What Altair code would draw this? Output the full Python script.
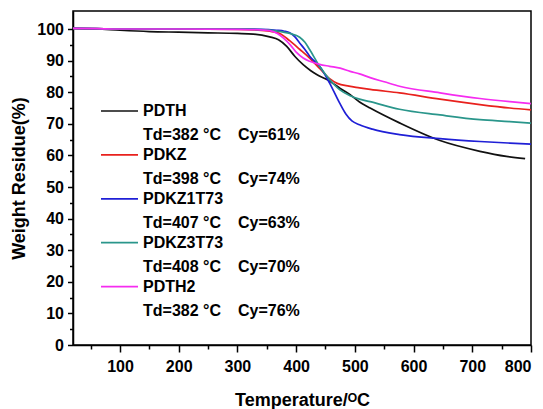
import altair as alt
import pandas as pd

# ---------------- data ----------------
names = ["PDTH", "PDKZ", "PDKZ1T73", "PDKZ3T73", "PDTH2"]
colors = ["#111111", "#e8211d", "#1f1fd6", "#2a968b", "#f52cf0"]
td_labels = ["Td=382 °C", "Td=398 °C", "Td=407 °C", "Td=408 °C", "Td=382 °C"]
cy_labels = ["Cy=61%", "Cy=74%", "Cy=63%", "Cy=70%", "Cy=76%"]

pdth_t = [20, 60, 100, 150, 200, 250, 300, 327, 355, 370, 384, 398, 412, 425, 435, 457, 475,
          492, 508, 526, 576, 645, 713, 758, 790]
pdth_w = [100.2, 100.0, 99.6, 99.2, 99.0, 98.8, 98.6, 98.4, 97.5, 96.6, 94.5, 91.3, 88.7, 86.8,
          85.6, 83.5, 81.2, 79.2, 76.9, 75.0, 70.3, 64.7, 61.3, 59.7, 59.0]

pdkz_t = [20, 60, 100, 200, 300, 330, 355, 372, 389, 406, 423, 440, 457, 470, 490, 508, 526,
          576, 645, 713, 764, 800]
pdkz_w = [100.2, 100.1, 100.0, 100.0, 99.9, 99.7, 99.3, 98.6, 96.3, 93.6, 90.8, 87.5, 84.3,
          82.8, 81.9, 81.4, 80.9, 79.8, 77.8, 76.1, 75.0, 74.4]

pdkz1_t = [20, 60, 100, 200, 300, 340, 366, 380, 389, 398, 406, 415, 423, 440, 457, 474, 485,
           495, 508, 530, 576, 645, 713, 764, 800]
pdkz1_w = [100.2, 100.1, 100.0, 100.0, 100.0, 99.9, 99.6, 99.3, 98.8, 97.5, 95.6, 93.5, 91.4,
           88.2, 82.9, 76.6, 73.0, 70.9, 69.7, 68.3, 66.6, 65.3, 64.4, 63.9, 63.6]

pdkz3_t = [20, 60, 100, 200, 300, 340, 366, 389, 406, 415, 423, 440, 457, 474, 492, 508, 526,
           576, 645, 713, 764, 800]
pdkz3_w = [100.2, 100.1, 100.0, 100.0, 100.0, 99.8, 99.4, 98.6, 97.4, 95.8, 93.5, 88.2, 84.0,
           80.8, 78.9, 77.8, 77.0, 74.6, 72.8, 71.3, 70.7, 70.2]

pdth2_t = [20, 60, 100, 200, 300, 330, 355, 368, 378, 390, 401, 412, 423, 440, 457, 475, 492,
           508, 526, 550, 576, 645, 713, 764, 800]
pdth2_w = [100.2, 100.1, 100.0, 100.0, 99.9, 99.8, 99.5, 98.6, 97.2, 95.0, 92.5, 90.8, 89.8,
           88.8, 88.2, 87.6, 86.6, 85.8, 84.6, 83.3, 81.9, 79.8, 78.0, 77.0, 76.4]

x_major = [100, 200, 300, 400, 500, 600, 700, 800]
x_minor = [50, 150, 250, 350, 450, 550, 650, 750]
y_major = [0, 10, 20, 30, 40, 50, 60, 70, 80, 90, 100]
y_minor = [5, 15, 25, 35, 45, 55, 65, 75, 85, 95]

# ---------------- tables ----------------
series_t = [pdth_t, pdkz_t, pdkz1_t, pdkz3_t, pdth2_t]
series_w = [pdth_w, pdkz_w, pdkz1_w, pdkz3_w, pdth2_w]
rows = []
for name, ts, ws in zip(names, series_t, series_w):
    for t, w in zip(ts, ws):
        rows.append({"series": name, "T": t, "W": w})
df = pd.DataFrame(rows)

legend_df = pd.DataFrame({
    "series": names,
    "td": td_labels,
    "cy": cy_labels,
    "i": list(range(len(names))),
})

FONT = "Liberation Sans"
xscale = alt.Scale(domain=[20, 800], nice=False, zero=False)
yscale = alt.Scale(domain=[0, 105.7], nice=False, zero=False)
cscale = alt.Scale(domain=names, range=colors)

lines = alt.Chart(df).mark_line(strokeWidth=1.7, interpolate="monotone").encode(
    x=alt.X("T:Q", scale=xscale,
            axis=alt.Axis(values=x_major, title="Temperature/ᴼC", orient="bottom",
                          tickSize=7, labelPadding=6, titlePadding=17,
                          labelFontSize=16, titleFontSize=18)),
    y=alt.Y("W:Q", scale=yscale,
            axis=alt.Axis(values=y_major, title="Weight Residue(%)", orient="left",
                          tickSize=5.5, labelPadding=4, titlePadding=8,
                          labelFontSize=16, titleFontSize=18)),
    color=alt.Color("series:N", scale=cscale, legend=None),
)

minor = alt.Chart(df).mark_line(opacity=0).encode(
    x=alt.X("T:Q", scale=xscale,
            axis=alt.Axis(values=x_minor, labels=False, title=None, domain=False,
                          orient="bottom", tickSize=4)),
    y=alt.Y("W:Q", scale=yscale,
            axis=alt.Axis(values=y_minor, labels=False, title=None, domain=False,
                          orient="left", tickSize=3.5)),
)

leg_base = alt.Chart(legend_df).transform_calculate(
    ny="100 + 43.9 * datum.i",
    ty="124 + 43.9 * datum.i",
)

leg_sym = leg_base.mark_rule(strokeWidth=1.7).encode(
    x=alt.value(28), x2=alt.value(65),
    y=alt.Y("ny:Q", scale=None),
    color=alt.Color("series:N", scale=cscale, legend=None),
)
leg_name = leg_base.mark_text(align="left", baseline="middle", font=FONT, fontSize=16,
                              fontWeight="bold", color="black").encode(
    x=alt.value(70), y=alt.Y("ny:Q", scale=None), text="series:N")
leg_td = leg_base.mark_text(align="left", baseline="middle", font=FONT, fontSize=16,
                            fontWeight="bold", color="black").encode(
    x=alt.value(70), y=alt.Y("ty:Q", scale=None), text="td:N")
leg_cy = leg_base.mark_text(align="left", baseline="middle", font=FONT, fontSize=16,
                            fontWeight="bold", color="black").encode(
    x=alt.value(165), y=alt.Y("ty:Q", scale=None), text="cy:N")

chart = alt.layer(lines, minor, leg_sym, leg_name, leg_td, leg_cy).resolve_axis(
    x="independent", y="independent"
).properties(
    width=458, height=334,
    autosize="none",
    padding={"left": 73, "top": 11, "right": 12, "bottom": 64},
    background="white",
).configure_view(
    stroke="black", strokeWidth=1.5
).configure_axis(
    grid=False,
    domainColor="black", domainWidth=1.5,
    tickColor="black", tickWidth=1.5,
    labelFont=FONT, titleFont=FONT,
    labelFontWeight="bold", titleFontWeight="bold",
    labelColor="black", titleColor="black",
)

chart.save("out.html", embed_options={"renderer": "svg", "actions": False})
